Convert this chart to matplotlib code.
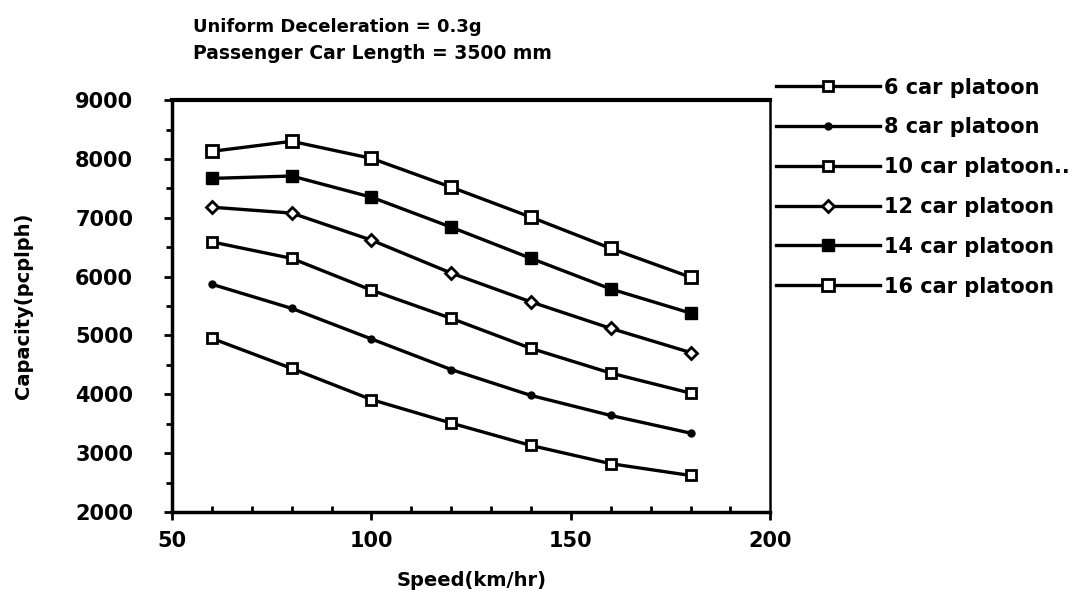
import matplotlib.pyplot as plt
from matplotlib.ticker import MultipleLocator

# speed (km/hr) and capacity (pcplph) per platoon size
speed = [60, 80, 100, 120, 140, 160, 180]
cap_6 = [4950, 4440, 3910, 3510, 3130, 2820, 2620]
cap_8 = [5870, 5460, 4940, 4420, 3980, 3640, 3340]
cap_10 = [6590, 6310, 5770, 5290, 4780, 4360, 4020]
cap_12 = [7180, 7080, 6620, 6060, 5570, 5120, 4710]
cap_14 = [7670, 7710, 7350, 6840, 6310, 5790, 5380]
cap_16 = [8130, 8300, 8010, 7520, 7010, 6480, 5990]

labels = ["6 car platoon", "8 car platoon", "10 car platoon..",
          "12 car platoon", "14 car platoon", "16 car platoon"]
series = [cap_6, cap_8, cap_10, cap_12, cap_14, cap_16]
styles = [
    dict(marker="s", mfc="white", ms=7, mew=2),
    dict(marker="o", mfc="black", ms=5, mew=1),
    dict(marker="s", mfc="white", ms=7, mew=2),
    dict(marker="D", mfc="white", ms=6, mew=2),
    dict(marker="s", mfc="black", ms=8, mew=1),
    dict(marker="s", mfc="white", ms=9, mew=2),
]

plt.rcParams["font.family"] = "DejaVu Sans"
plt.rcParams["font.weight"] = "bold"

fig = plt.figure(figsize=(10.82, 5.96), dpi=100)
ax = fig.add_axes([0.159, 0.141, 0.553, 0.691])

handles = []
for y, lab, st in zip(series, labels, styles):
    h, = ax.plot(speed, y, color="black", lw=2.4, mec="black", label=lab, **st)
    handles.append(h)

ax.set_xlim(50, 200)
ax.set_ylim(2000, 9000)
ax.xaxis.set_major_locator(MultipleLocator(50))
ax.xaxis.set_minor_locator(MultipleLocator(10))
ax.yaxis.set_major_locator(MultipleLocator(1000))
ax.yaxis.set_minor_locator(MultipleLocator(500))
ax.tick_params(axis="x", which="major", direction="out", length=6, width=2, labelsize=15, pad=8)
ax.tick_params(axis="x", which="minor", direction="in", length=4, width=2)
ax.tick_params(axis="y", which="major", direction="out", length=6, width=2, labelsize=15, pad=22)
ax.tick_params(axis="y", which="minor", direction="out", length=4, width=2)
for lab in ax.get_xticklabels() + ax.get_yticklabels():
    lab.set_fontweight("bold")

for side in ["left", "bottom"]:
    ax.spines[side].set_linewidth(2.5)
ax.spines["top"].set_linewidth(3)
ax.spines["right"].set_linewidth(1.8)

ax.set_xlabel("Speed(km/hr)", fontsize=14, fontweight="bold", labelpad=14)
ax.set_ylabel("Capacity(pcplph)", fontsize=14, fontweight="bold", labelpad=30)

fig.text(0.178, 0.955, "Uniform Deceleration = 0.3g", fontsize=13, fontweight="bold", va="center")
fig.text(0.178, 0.91, "Passenger Car Length = 3500 mm", fontsize=13.5, fontweight="bold", va="center")

ax.legend(handles=handles, loc="upper left", bbox_to_anchor=(0.995, 1.075),
          frameon=False, handlelength=5.0, handletextpad=0.2,
          labelspacing=0.95, borderaxespad=0,
          prop={"weight": "bold", "size": 15})

fig.savefig("out.png", dpi=100, facecolor="white")
